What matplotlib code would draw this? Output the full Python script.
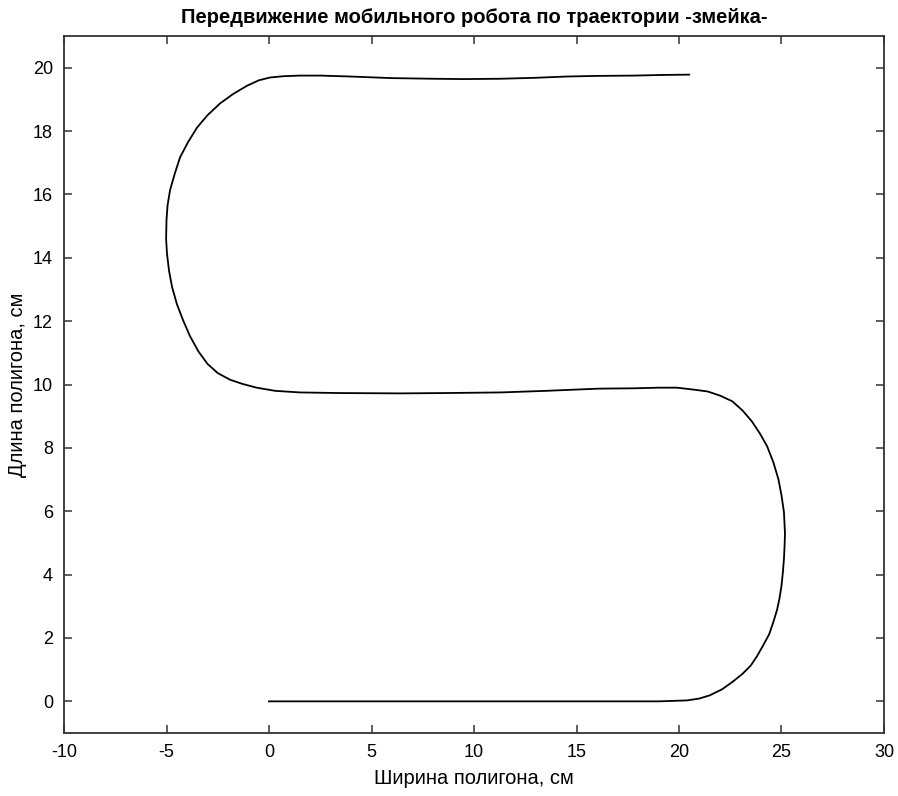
import matplotlib
matplotlib.use("Agg")
import matplotlib.pyplot as plt

plt.rcParams['font.family'] = ['Liberation Sans', 'DejaVu Sans']
plt.rcParams['axes.unicode_minus'] = False

# trajectory points (cm)
# bottom run + right turn
x_bottom = [0.0, 5.0, 10.0, 15.0, 19.0, 20.4, 21.0, 21.5, 22.1, 22.6, 23.1, 23.5, 23.8,
            24.1, 24.4, 24.6, 24.78, 24.9, 25.0, 25.07, 25.12, 25.15, 25.17,
            25.12, 25.0, 24.85, 24.6, 24.3, 23.95, 23.55, 23.1, 22.6, 22.0,
            21.4, 20.7, 19.9, 19.0]
y_bottom = [0.0, 0.0, 0.0, 0.0, 0.0, 0.03, 0.09, 0.19, 0.38, 0.61, 0.87, 1.13, 1.42,
            1.76, 2.12, 2.5, 2.88, 3.24, 3.65, 4.09, 4.5, 4.9, 5.3,
            5.97, 6.5, 7.01, 7.55, 8.05, 8.45, 8.84, 9.18, 9.47, 9.65,
            9.78, 9.84, 9.9, 9.9]
# middle run + left turn (lower half)
x_middle = [17.8, 16.1, 13.5, 11.3, 8.5, 6.4, 3.5, 1.5, 0.3, -0.6, -1.3, -1.9,
            -2.5, -3.0, -3.45, -3.85, -4.2, -4.5, -4.73, -4.88, -4.98]
y_middle = [9.88, 9.87, 9.8, 9.75, 9.73, 9.72, 9.73, 9.75, 9.8, 9.9, 10.02, 10.15,
            10.36, 10.65, 11.05, 11.52, 12.04, 12.55, 13.08, 13.6, 14.15]
# left turn (upper half) + top run
x_top = [-5.02, -5.0, -4.95, -4.83, -4.6, -4.34, -3.95, -3.51, -3.0, -2.39, -1.75,
         -1.07, -0.5, 0.05, 0.7, 1.5, 2.5, 4.0, 6.0, 8.0, 9.5, 11.3, 13.0, 14.5,
         16.0, 17.8, 19.2, 20.5]
y_top = [14.6, 15.2, 15.65, 16.13, 16.65, 17.17, 17.65, 18.11, 18.5, 18.87, 19.17,
         19.43, 19.6, 19.69, 19.73, 19.75, 19.75, 19.72, 19.67, 19.65, 19.64, 19.65,
         19.68, 19.72, 19.74, 19.75, 19.77, 19.78]

traj_x = x_bottom + x_middle + x_top
traj_y = y_bottom + y_middle + y_top

x_ticks = [-10, -5, 0, 5, 10, 15, 20, 25, 30]
y_ticks = [0, 2, 4, 6, 8, 10, 12, 14, 16, 18, 20]

fig = plt.figure(figsize=(8.98, 7.96), dpi=100)
ax = fig.add_axes([0.0713, 0.0791, 0.9131, 0.8757])

ax.plot(traj_x, traj_y, color='black', lw=1.3)

ax.set_xlim(-10, 30)
ax.set_ylim(-1, 21)
ax.set_xticks(x_ticks)
ax.set_yticks(y_ticks)
ax.tick_params(direction='in', top=True, right=True, length=6, width=1.1,
               color='#333333', labelsize=13, pad=8)
for s in ax.spines.values():
    s.set_color('#333333')
    s.set_linewidth(1.3)

ax.set_title('Передвижение мобильного робота по траектории -змейка-',
             fontsize=14.5, fontweight='bold', pad=9)
ax.set_xlabel('Ширина полигона, см', fontsize=14.5, labelpad=6)
ax.set_ylabel('Длина полигона, см', fontsize=14.5, labelpad=4)

fig.savefig('out.png', dpi=100)
